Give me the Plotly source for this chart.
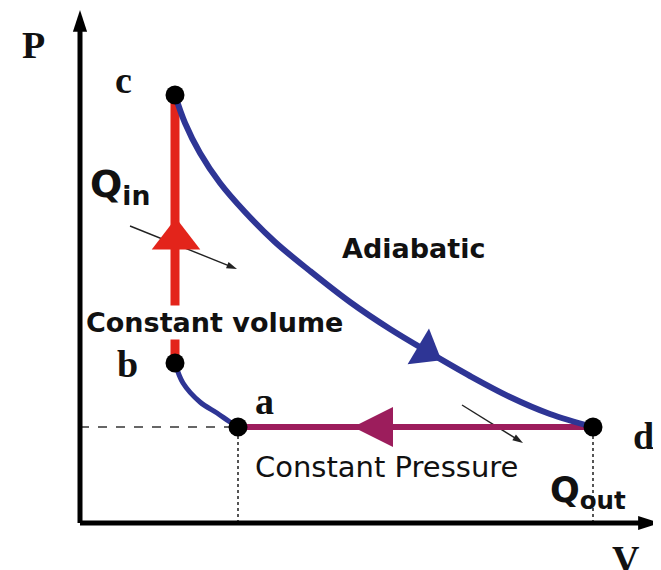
import math
import plotly.graph_objects as go

# ---------------- data (V and P in arbitrary units) ----------------
state_names = ["a", "b", "c", "d"]
state_v = [1.58, 0.95, 0.95, 5.13]
state_p = [0.96, 1.60, 4.28, 0.96]

# adiabatic expansion c -> d
expansion_v = [0.95, 1.05, 1.20, 1.40, 1.65, 1.95, 2.30, 2.70, 3.10, 3.50, 3.90, 4.30, 4.70, 5.13]
expansion_p = [4.28, 4.00, 3.70, 3.40, 3.11, 2.81, 2.52, 2.21, 1.94, 1.70, 1.47, 1.26, 1.09, 0.96]

# adiabatic compression a -> b (listed from b to a)
compression_v = [0.95, 1.03, 1.20, 1.37, 1.50, 1.58]
compression_p = [1.60, 1.40, 1.21, 1.10, 1.01, 0.96]

# constant volume b -> c and constant pressure d -> a
isochoric_v = [0.95, 0.95]
isochoric_p = [1.60, 4.28]
isobaric_v = [5.13, 1.58]
isobaric_p = [0.96, 0.96]

# direction markers on the processes
arrow_v = [0.96, 3.46, 2.73]
arrow_p = [2.84, 1.72, 0.96]

# heat flow arrows (start, end)
qin_v = [0.50, 1.57]
qin_p = [2.97, 2.54]
qout_v = [3.82, 4.43]
qout_p = [1.18, 0.80]

axis_v_max = 5.80
axis_p_max = 5.13

# ---------------- styles ----------------
RED = "#e3241b"
BLUE = "#2e3595"
MAGENTA = "#9c1d5c"
BOLD_SANS = dict(family="DejaVu Sans", weight="bold", color="#111111")
SERIF = dict(family="Liberation Serif", weight="bold", color="#111111", size=38)

fig = go.Figure()


def line(x, y, color, width, dash=None, shape="linear"):
    fig.add_trace(go.Scatter(x=x, y=y, mode="lines", hoverinfo="skip",
                             line=dict(color=color, width=width, dash=dash, shape=shape)))


def arrow_line(x, y, color, width, head, back):
    # shaft stops slightly short of the tip, head marker placed on the tip
    dx, dy = x[1] - x[0], y[1] - y[0]
    fig.add_trace(go.Scatter(x=[x[0], x[1] - dx * back], y=[y[0], y[1] - dy * back],
                             mode="lines", hoverinfo="skip",
                             line=dict(color=color, width=width)))
    fig.add_trace(go.Scatter(x=[x[1]], y=[y[1]], mode="markers", hoverinfo="skip",
                             marker=dict(symbol="arrow", angle=math.degrees(math.atan2(dx, dy)),
                                         size=head, opacity=1, color=color,
                                         line=dict(width=0))))


# guide lines
line([0, state_v[0]], [state_p[0], state_p[0]], "#666666", 2, "dash")
line([state_v[0], state_v[0]], [0, state_p[0]], "#555555", 2, "dot")
line([state_v[3], state_v[3]], [0, state_p[3]], "#555555", 2, "dot")

# axes
arrow_line([0, 0], [0, axis_p_max], "#000000", 5, 23, 0.02)
arrow_line([0, axis_v_max], [0, 0], "#000000", 5, 23, 0.02)

# heat flow arrows
arrow_line(qin_v, qin_p, "#222222", 1.4, 11, 0.05)
arrow_line(qout_v, qout_p, "#222222", 1.4, 11, 0.08)

# processes
line(isochoric_v, isochoric_p, RED, 9)
line(isobaric_v, isobaric_p, MAGENTA, 6)
line(expansion_v, expansion_p, BLUE, 6, shape="spline")
line(compression_v, compression_p, BLUE, 5, shape="spline")

# direction arrowheads
fig.add_trace(go.Scatter(
    x=arrow_v, y=arrow_p, mode="markers", hoverinfo="skip",
    marker=dict(symbol=["triangle-up", "triangle-right", "arrow-left"],
                angle=[0, 31, 0], size=[42, 36, 40], opacity=1,
                color=[RED, BLUE, MAGENTA], line=dict(width=0))))

# state points
fig.add_trace(go.Scatter(x=state_v, y=state_p, mode="markers", hoverinfo="skip",
                         marker=dict(color="#000000", size=19, opacity=1)))

annotations = []
# serif labels
serif_labels = [("P", -0.47, 4.78), ("c", 0.43, 4.43), ("b", 0.47, 1.59),
                ("a", 1.84, 1.22), ("d", 5.63, 0.87), ("V", 5.46, -0.36)]
for t, x, y in serif_labels:
    annotations.append(dict(x=x, y=y, xref="x", yref="y", text=t, showarrow=False,
                            font=SERIF, xanchor="center", yanchor="middle"))

annotations.append(dict(x=0.08, y=3.37, xref="x", yref="y", text="Q<sub>in</sub>",
                        showarrow=False, xanchor="left", yanchor="middle",
                        font=dict(BOLD_SANS, size=38)))
annotations.append(dict(x=4.68, y=0.31, xref="x", yref="y", text="Q<sub>out</sub>",
                        showarrow=False, xanchor="left", yanchor="middle",
                        font=dict(BOLD_SANS, size=35)))
annotations.append(dict(x=0.04, y=2.01, xref="x", yref="y", text="Constant volume",
                        showarrow=False, xanchor="left", yanchor="middle", bgcolor="#ffffff",
                        font=dict(BOLD_SANS, size=27)))
annotations.append(dict(x=2.60, y=2.75, xref="x", yref="y", text="Adiabatic",
                        showarrow=False, xanchor="left", yanchor="middle",
                        font=dict(BOLD_SANS, size=27)))
annotations.append(dict(x=1.73, y=0.56, xref="x", yref="y", text="Constant Pressure",
                        showarrow=False, xanchor="left", yanchor="middle",
                        font=dict(family="DejaVu Sans", size=29, color="#111111")))

# the page places the plot 8px from the window's top-left corner
fig.update_layout(
    width=653, height=562,
    margin=dict(l=0, r=0, t=0, b=0),
    paper_bgcolor="#ffffff", plot_bgcolor="#ffffff",
    showlegend=False,
    xaxis=dict(range=[-0.72, 5.81], visible=False, fixedrange=True),
    yaxis=dict(range=[-0.47, 5.15], visible=False, fixedrange=True),
    annotations=annotations,
)

fig.write_html("out.html")
